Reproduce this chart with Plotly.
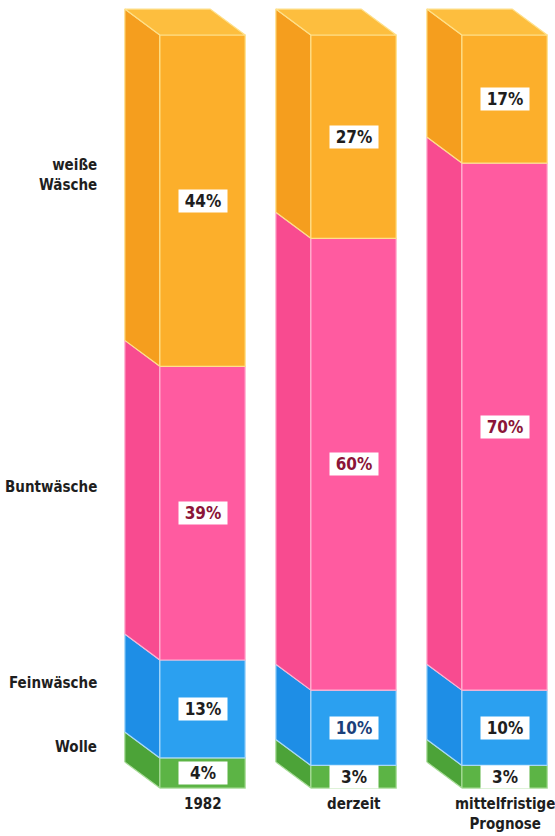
import plotly.graph_objects as go

# Anteile der Waschgänge je Zeitpunkt (in %), von unten nach oben gestapelt
columns = ["1982", "derzeit", "mittelfristige<br>Prognose"]
segments = ["Wolle", "Feinwäsche", "Buntwäsche", "weiße<br>Wäsche"]
wolle = [4, 3, 3]
feinwaesche = [13, 10, 10]
buntwaesche = [39, 60, 70]
weisse_waesche = [44, 27, 17]
series = [wolle, feinwaesche, buntwaesche, weisse_waesche]

# Farben: Vorderseite, Seitenfläche, Deckfläche, Kantenlinie
front_col = ["#5CB445", "#2BA0F0", "#FF5BA0", "#FCAF2B"]
side_col = ["#4CA338", "#1E8EE6", "#F84B90", "#F59E1E"]
top_col = ["#6CC055", "#45AEF5", "#FF75B0", "#FDBE3E"]
edge_col = ["#A8DC98", "#A8D8FA", "#FFB2D2", "#FEE08A"]
label_col = [
    ["#1E1E1E", "#1E1E1E", "#1E1E1E"],
    ["#1E1E1E", "#1B3F7A", "#1E1E1E"],
    ["#8B1538", "#8B1538", "#8B1538"],
    ["#1E1E1E", "#1E1E1E", "#1E1E1E"],
]

BAR_W = 0.565   # Breite der Vorderseite (x-Einheiten)
DX = 0.232      # Tiefenversatz nach links
DY = 3.45       # Tiefenversatz nach oben (Prozentpunkte)
FONT = "'DejaVu Sans Condensed', 'Liberation Sans Narrow', Roboto, sans-serif"

fig = go.Figure()


def poly(xs, ys, fill, line):
    fig.add_trace(go.Scatter(
        x=xs + [xs[0]], y=ys + [ys[0]], mode="lines", fill="toself",
        fillcolor=fill, line=dict(color=line, width=1.2),
        hoverinfo="skip", showlegend=False,
    ))


annotations = []
for i, col in enumerate(columns):
    xl, xr = i - BAR_W / 2, i + BAR_W / 2
    base = 0
    for s, vals in enumerate(series):
        top = base + vals[i]
        # Seitenfläche
        poly([xl - DX, xl, xl, xl - DX],
             [base + DY, base, top, top + DY], side_col[s], edge_col[s])
        # Vorderseite
        poly([xl, xr, xr, xl], [base, base, top, top], front_col[s], edge_col[s])
        # Wertbeschriftung
        annotations.append(dict(
            x=i, y=(base + top) / 2, text=f"<b>{vals[i]}%</b>", showarrow=False,
            font=dict(family=FONT, size=17, color=label_col[s][i]),
            bgcolor="white", width=48, height=22, borderpad=0,
        ))
        # Segmentnamen links neben der ersten Säule
        if i == 0:
            annotations.append(dict(
                x=xl - DX - 0.17, y=(base + top) / 2 + DY, text=f"<b>{segments[s]}</b>",
                showarrow=False, xanchor="right", align="right",
                font=dict(family=FONT, size=15, color="#1E1E1E"),
            ))
        base = top
    # Deckfläche
    poly([xl, xr, xr - DX, xl - DX], [base, base, base + DY, base + DY],
         top_col[3], edge_col[3])
    # Spaltenbeschriftung
    annotations.append(dict(
        x=i, y=0, yanchor="top", yshift=-5, text=f"<b>{col}</b>", showarrow=False,
        font=dict(family=FONT, size=15, color="#1E1E1E"), align="center",
    ))

fig.update_layout(
    width=555, height=836, autosize=False,
    margin=dict(l=0, r=0, t=0, b=0),
    paper_bgcolor="white", plot_bgcolor="white",
    xaxis=dict(range=[-1.341, 2.334], visible=False, fixedrange=True),
    yaxis=dict(range=[-6.37, 104.65], visible=False, fixedrange=True),
    annotations=annotations,
)

fig.write_html("out.html")
